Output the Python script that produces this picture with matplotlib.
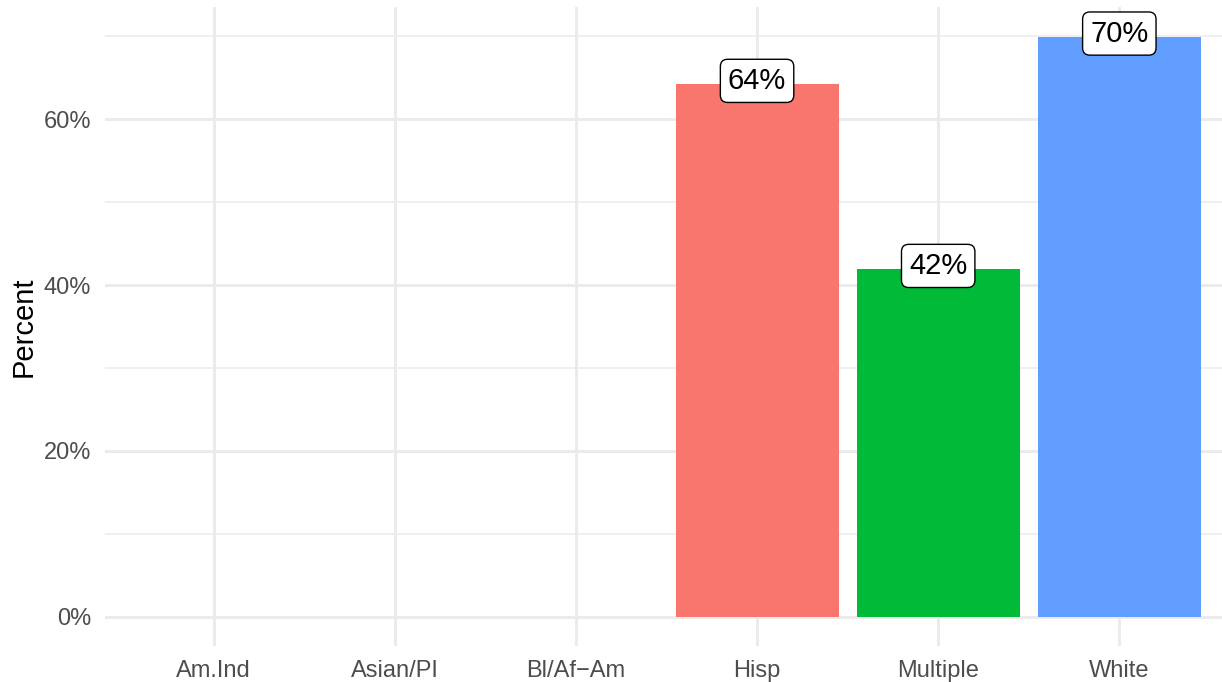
import numpy as np
import matplotlib
matplotlib.use('Agg')
import matplotlib.pyplot as plt

# data
groups = ['Am.Ind', 'Asian/PI', 'Bl/Af\u2212Am', 'Hisp', 'Multiple', 'White']
percent = [np.nan, np.nan, np.nan, 64.2, 41.9, 69.9]
labels = ['', '', '', '64%', '42%', '70%']
colors = ['#F8766D', '#F8766D', '#F8766D', '#F8766D', '#00BA38', '#619CFF']
yticks = [0, 20, 40, 60]
ytick_labels = ['0%', '20%', '40%', '60%']

plt.rcParams['font.family'] = ['Liberation Sans', 'DejaVu Sans']

W, H = 1222, 682
fig = plt.figure(figsize=(W / 100, H / 100), dpi=100)
# panel in pixels: left 105, right 1228, top 7, bottom 646
ax = fig.add_axes([105 / W, (H - 646) / H, (1228 - 105) / W, (646 - 7) / H])

x = np.arange(1, len(groups) + 1)
ax.set_xlim(0.4, 6.6)
ax.set_ylim(-3.5, 73.5)

# grid
grid = '#EBEBEB'
for yv in [10, 30, 50, 70]:
    ax.axhline(yv, color=grid, lw=1.1, zorder=0)
for yv in yticks:
    ax.axhline(yv, color=grid, lw=2.1, zorder=0)
for xv in x:
    ax.axvline(xv, color=grid, lw=2.1, zorder=0)

for xi, v, c, lab in zip(x, percent, colors, labels):
    if np.isnan(v):
        continue
    ax.bar(xi, v, width=0.9, color=c, zorder=2)
    ax.text(xi, v + 0.4, lab, ha='center', va='center', fontsize=21, zorder=3,
            bbox=dict(boxstyle='round,pad=0.26,rounding_size=0.25',
                      fc='white', ec='black', lw=1.0))

for s in ax.spines.values():
    s.set_visible(False)
ax.set_yticks(yticks)
ax.set_yticklabels(ytick_labels)
ax.set_xticks(x)
ax.set_xticklabels(groups)
ax.tick_params(length=0, labelsize=17, labelcolor='#4D4D4D', pad=10)
ax.set_ylabel('Percent', fontsize=21, labelpad=4)

fig.savefig('out.png', dpi=100)
